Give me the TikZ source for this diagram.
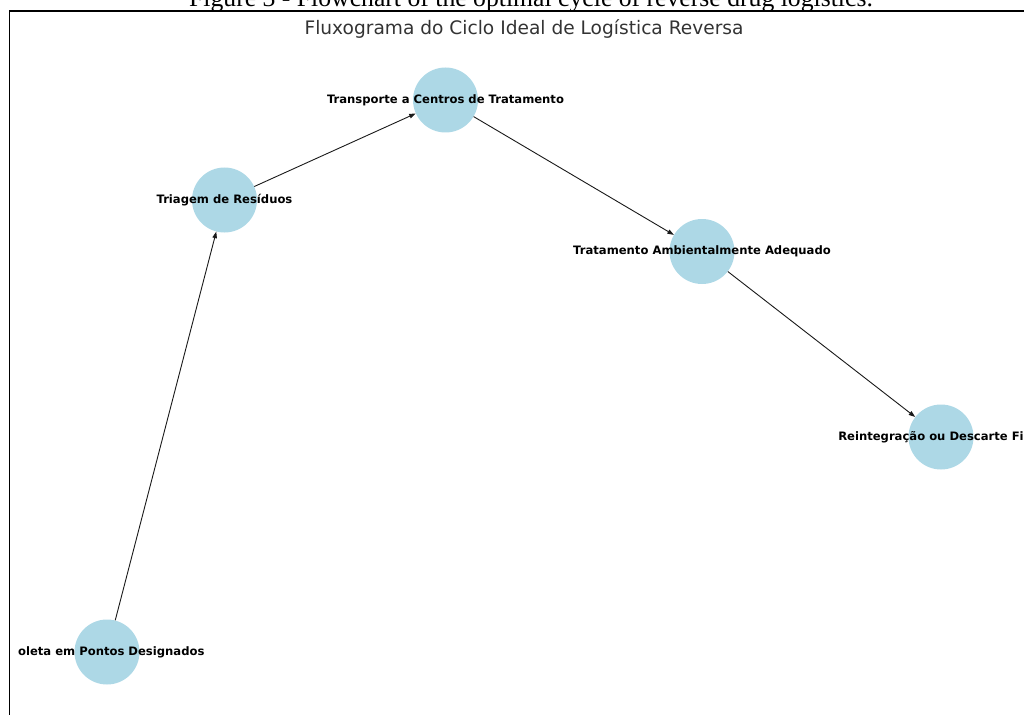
\documentclass[tikz,border=0pt]{standalone}
\usepackage{fontspec}
\setmainfont{DejaVu Sans}
\newfontfamily\capfont{Liberation Serif}
\usetikzlibrary{arrows.meta}
\definecolor{nodeblue}{HTML}{ADD8E6}
\definecolor{titlegray}{HTML}{333333}
\tikzset{
  stepcircle/.style={circle, fill=nodeblue, draw=none, minimum size=65pt, inner sep=0pt},
  steplabel/.style={font=\fontsize{11.6}{13}\selectfont\bfseries, text=black, inner sep=0pt},
  flow/.style={draw=black!90, line width=0.9pt, -{Triangle[length=6.5pt,width=4.5pt]}},
}
\begin{document}
\begin{tikzpicture}[x=1pt,y=-1pt]
\useasboundingbox (0,0) rectangle (1024,714);
\clip (0,0) rectangle (1024,714);
% caption (cut off at top)
\node[font=\capfont\fontsize{25.7}{28}\selectfont, anchor=base, inner sep=0pt] (cap) at (531,7) {Figure 3 - Flowchart of the optimal cycle of reverse drug logistics.};
% frame
\draw[line width=1.4pt] (9.5,740) -- (9.5,11) -- (1040,11);
% title
\node[font=\fontsize{18.6}{21}\selectfont, text=titlegray, anchor=base, inner sep=0pt] (title) at (524,35) {Fluxograma do Ciclo Ideal de Logística Reversa};
% circles
\node[stepcircle] (c1) at (107,652) {};
\node[stepcircle] (c2) at (224.5,200) {};
\node[stepcircle] (c3) at (445.5,100) {};
\node[stepcircle] (c4) at (702,251.5) {};
\node[stepcircle] (c5) at (941,437) {};
% edges
\draw[flow] (c1) -- (c2);
\draw[flow] (c2) -- (c3);
\draw[flow] (c3) -- (c4);
\draw[flow] (c4) -- (c5);
% labels
\begin{scope}
\clip (18,600) rectangle (300,700);
\node[steplabel] (l1) at (c1) {Coleta em Pontos Designados};
\end{scope}
\node[steplabel] (l2) at (c2) {Triagem de Resíduos};
\node[steplabel] (l3) at (c3) {Transporte a Centros de Tratamento};
\node[steplabel] (l4) at (c4) {Tratamento Ambientalmente Adequado};
\node[steplabel] (l5) at (c5) {Reintegração ou Descarte Final};
\end{tikzpicture}
\end{document}
